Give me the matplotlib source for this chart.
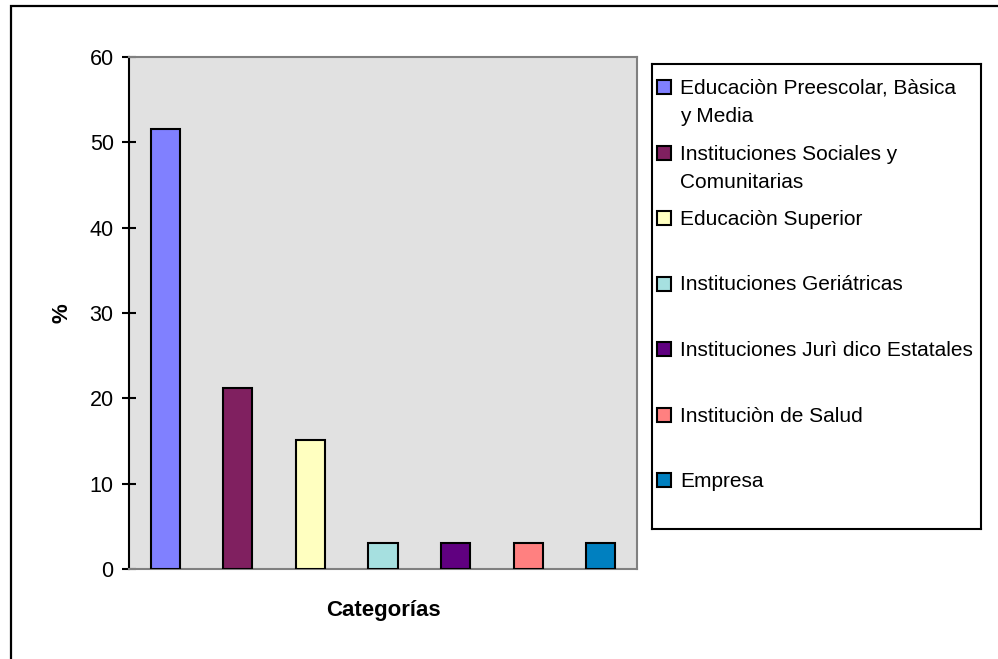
import matplotlib
matplotlib.use("Agg")
import matplotlib.pyplot as plt
from matplotlib.patches import Rectangle

# data (percent of 33 practice sites)
categorias = [
    "Educaciòn Preescolar, Bàsica\ny Media",
    "Instituciones Sociales y\nComunitarias",
    "Educaciòn Superior",
    "Instituciones Geriátricas",
    "Instituciones Jurì dico Estatales",
    "Instituciòn de Salud",
    "Empresa",
]
porcentajes = [51.52, 21.21, 15.15, 3.03, 3.03, 3.03, 3.03]
colores = ["#8080FF", "#802060", "#FFFFC0", "#A6E0E0", "#600080", "#FF8080", "#0080C0"]
y_ticks = [0, 10, 20, 30, 40, 50, 60]

plt.rcParams['font.family'] = ['Liberation Sans', 'DejaVu Sans']

W, H = 998, 659
fig = plt.figure(figsize=(W / 100, H / 100), dpi=100)

# outer chart border (right and bottom fall outside the picture)
fig.patches.append(Rectangle((11 / W, -0.05), 1.1, 1 - 6 / H + 0.05, transform=fig.transFigure,
                             fill=False, edgecolor='black', lw=1.6))

# plot area
ax = fig.add_axes([129 / W, 1 - 569 / H, 508 / W, 512 / H])
ax.set_facecolor('#E1E1E1')
x = range(len(porcentajes))
ax.bar(x, porcentajes, width=0.4, color=colores, edgecolor='black', linewidth=1.5, zorder=3)
ax.set_xlim(-0.5, len(porcentajes) - 0.5)
ax.set_ylim(0, 60)
ax.set_yticks(y_ticks)
ax.set_xticks([])
ax.tick_params(axis='y', direction='inout', length=10, width=1.5, pad=6, labelsize=15.5)
for side in ['top', 'right', 'bottom']:
    ax.spines[side].set_color('#808080')
    ax.spines[side].set_linewidth(1.5)
ax.spines['left'].set_color('black')
ax.spines['left'].set_linewidth(1.5)

ax.set_ylabel('%', fontsize=16, fontweight='bold', va='center')
ax.yaxis.set_label_coords(-0.132, 0.5)
ax.set_xlabel('Categorías', fontsize=16, fontweight='bold', va='center')
ax.xaxis.set_label_coords(0.5, -0.082)

# legend box, drawn in pixel units
lx0, ly0, lx1, ly1 = 652, 64, 981, 529
lax = fig.add_axes([lx0 / W, 1 - ly1 / H, (lx1 - lx0) / W, (ly1 - ly0) / H])
lax.set_xlim(0, lx1 - lx0)
lax.set_ylim(ly1 - ly0, 0)
lax.set_xticks([])
lax.set_yticks([])
for s in lax.spines.values():
    s.set_color('black')
    s.set_linewidth(1.5)

step = 65.5
line_gap = 28
for i, (lab, col) in enumerate(zip(categorias, colores)):
    top = 16 + step * i
    lax.add_patch(Rectangle((5, top), 14, 14, facecolor=col, edgecolor='black', lw=1.5))
    for j, linea in enumerate(lab.split('\n')):
        lax.text(28, top + 14 + line_gap * j, linea, fontsize=15, va='baseline', ha='left')

fig.savefig('out.png', dpi=100)
